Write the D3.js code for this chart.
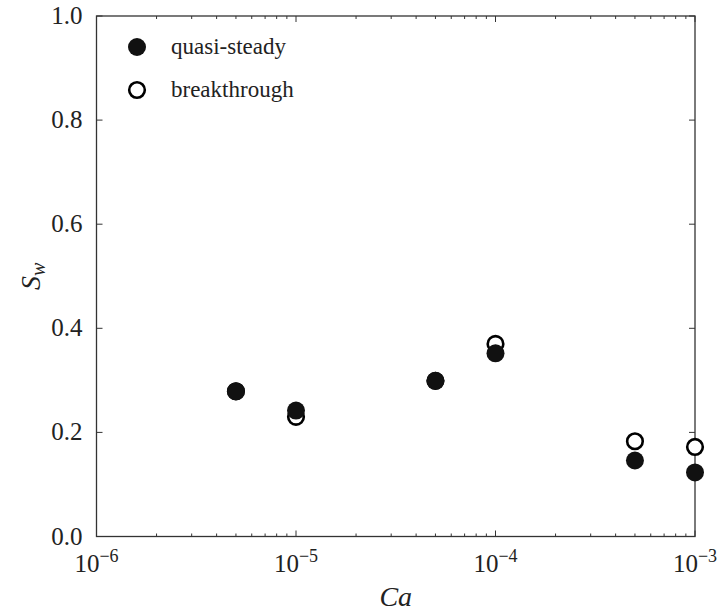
<!DOCTYPE html>
<html>
<head>
<meta charset="utf-8">
<script src="https://cdn.jsdelivr.net/npm/d3@7"></script>
<style>
  svg text, svg tspan { font-family: "Liberation Serif", serif !important; }
</style>
</head>
<body style="margin:0">
<svg id="svg" width="719" height="613" font-family="Liberation Serif"></svg>
<script>
// data
const caValues = [5e-6, 1e-5, 5e-5, 1e-4, 5e-4, 1e-3];
const quasiSteady = [0.279, 0.242, 0.299, 0.352, 0.146, 0.123];
const breakthrough = [0.279, 0.230, 0.299, 0.370, 0.183, 0.172];
const yTicks = [0.0, 0.2, 0.4, 0.6, 0.8, 1.0];
const xDecades = [-6, -5, -4, -3];

const width = 719, height = 613;
const margin = { top: 16, right: 24, bottom: 76.5, left: 96.5 };
const serifFont = "Liberation Serif";
const textColor = "#222";

const svg = d3.select("#svg");

const x = d3.scaleLog().domain([1e-6, 1e-3]).range([margin.left, width - margin.right]);
const y = d3.scaleLinear().domain([0, 1]).range([height - margin.bottom, margin.top]);

const x0 = x.range()[0], x1 = x.range()[1];
const y0 = y.range()[0], y1 = y.range()[1];

// helper: text in serif font, forced inline
const addText = (sel) => sel
  .attr("font-family", serifFont)
  .style("font-family", "'Liberation Serif', serif", "important")
  .attr("fill", textColor);

// minor x ticks (2..9 of each decade)
const minor = [];
xDecades.slice(0, -1).forEach(e => {
  for (let k = 2; k <= 9; k++) minor.push(k * Math.pow(10, e));
});

const axisColor = "#333";
const ticks = svg.append("g").attr("stroke", axisColor).attr("stroke-width", 1);

// x ticks bottom + top
minor.forEach(v => {
  ticks.append("line").attr("x1", x(v)).attr("x2", x(v)).attr("y1", y0).attr("y2", y0 - 3);
  ticks.append("line").attr("x1", x(v)).attr("x2", x(v)).attr("y1", y1).attr("y2", y1 + 3);
});
xDecades.forEach(e => {
  const v = Math.pow(10, e);
  ticks.append("line").attr("x1", x(v)).attr("x2", x(v)).attr("y1", y0).attr("y2", y0 - 6);
  ticks.append("line").attr("x1", x(v)).attr("x2", x(v)).attr("y1", y1).attr("y2", y1 + 6);
});
// y ticks left + right
yTicks.forEach(v => {
  ticks.append("line").attr("x1", x0).attr("x2", x0 + 6).attr("y1", y(v)).attr("y2", y(v));
  ticks.append("line").attr("x1", x1).attr("x2", x1 - 6).attr("y1", y(v)).attr("y2", y(v));
});

// frame
svg.append("rect")
  .attr("x", x0).attr("y", y1)
  .attr("width", x1 - x0).attr("height", y0 - y1)
  .attr("fill", "none").attr("stroke", axisColor).attr("stroke-width", 1.3);

// y tick labels
svg.append("g").selectAll("text")
  .data(yTicks).enter().append("text")
  .call(addText)
  .attr("x", x0 - 14)
  .attr("y", d => y(d) + 8)
  .attr("text-anchor", "end")
  .attr("font-size", 25)
  .text(d => d.toFixed(1));

// x tick labels 10^e
const xl = svg.append("g").selectAll("text")
  .data(xDecades).enter().append("text")
  .call(addText)
  .attr("x", d => x(Math.pow(10, d)))
  .attr("y", y0 + 35)
  .attr("text-anchor", "middle")
  .attr("font-size", 25);
xl.append("tspan").text("10");
xl.append("tspan").attr("dy", -10).attr("font-size", 18).text(d => "\u2212" + Math.abs(d));

// axis titles
svg.append("text")
  .call(addText)
  .attr("x", (x0 + x1) / 2).attr("y", height - 7)
  .attr("text-anchor", "middle")
  .attr("font-size", 28).attr("font-style", "italic")
  .text("Ca");

const yt = svg.append("text")
  .call(addText)
  .attr("transform", `translate(40, ${(y0 + y1) / 2}) rotate(-90)`)
  .attr("text-anchor", "middle")
  .attr("font-size", 28).attr("font-style", "italic");
yt.append("tspan").text("S");
yt.append("tspan").attr("dy", 5).attr("font-size", 20).text("w");

// points: breakthrough (open) under quasi-steady (filled)
svg.append("g").selectAll("circle")
  .data(caValues).enter().append("circle")
  .attr("cx", d => x(d))
  .attr("cy", (d, i) => y(breakthrough[i]))
  .attr("r", 7.8)
  .attr("fill", "#fff")
  .attr("stroke", "#000")
  .attr("stroke-width", 2.6);

svg.append("g").selectAll("circle")
  .data(caValues).enter().append("circle")
  .attr("cx", d => x(d))
  .attr("cy", (d, i) => y(quasiSteady[i]))
  .attr("r", 9)
  .attr("fill", "#111");

// legend
const legend = svg.append("g");
legend.append("circle").attr("cx", 137).attr("cy", 47).attr("r", 9).attr("fill", "#111");
legend.append("text").call(addText)
  .attr("x", 171).attr("y", 54).attr("font-size", 23).text("quasi-steady");
legend.append("circle").attr("cx", 137).attr("cy", 90).attr("r", 7.8)
  .attr("fill", "#fff").attr("stroke", "#000").attr("stroke-width", 2.6);
legend.append("text").call(addText)
  .attr("x", 171).attr("y", 97).attr("font-size", 23).text("breakthrough");
</script>
</body>
</html>
